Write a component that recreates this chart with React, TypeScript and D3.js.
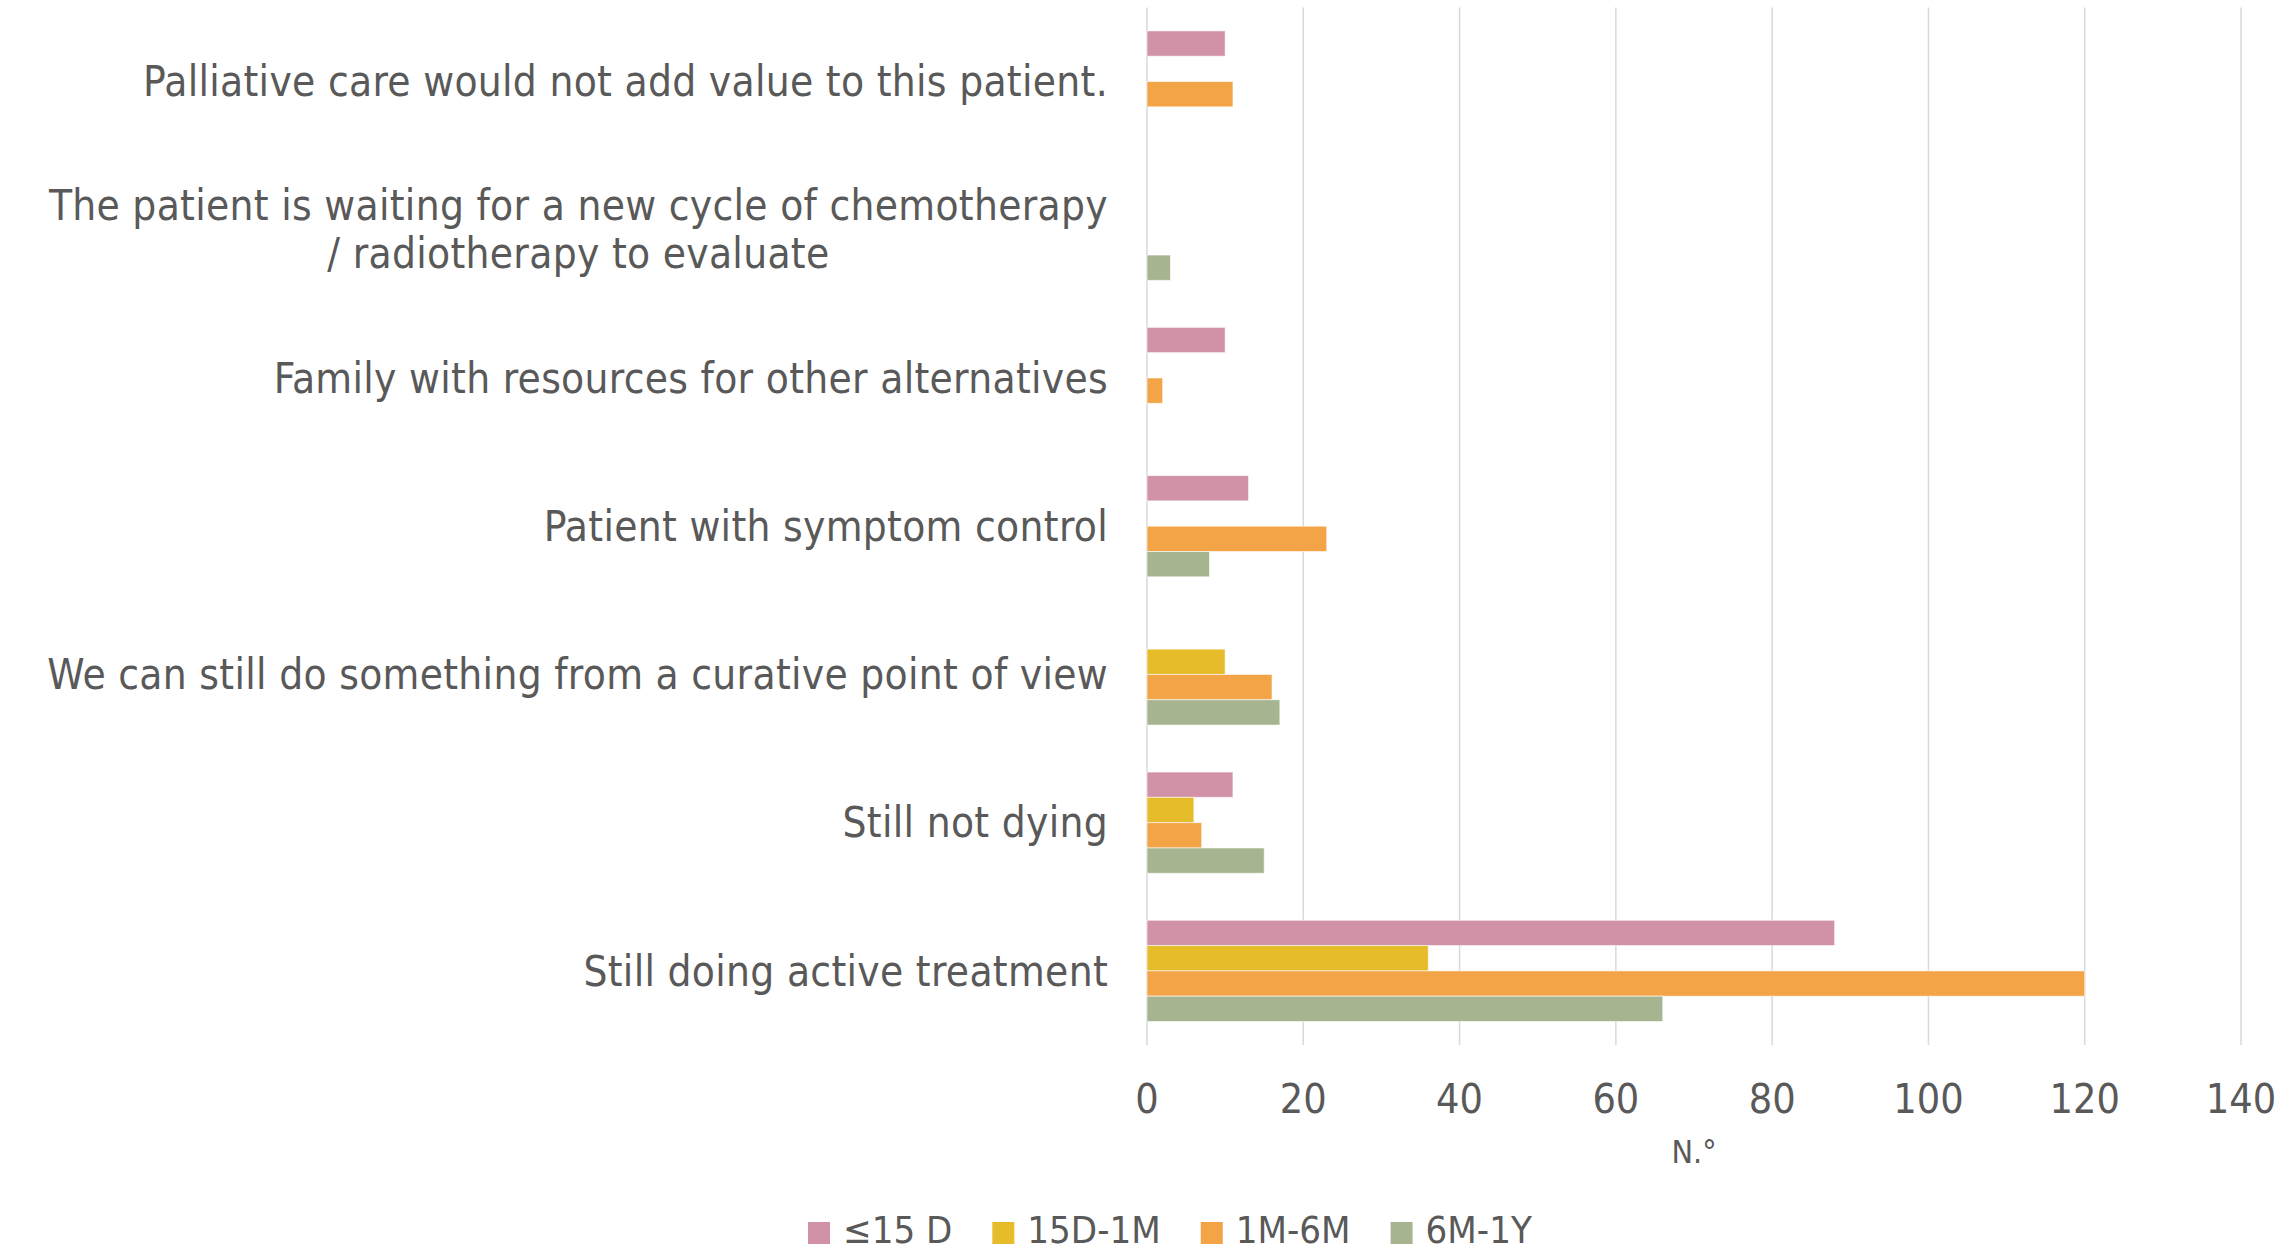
import React, { useEffect, useRef } from "react";
import * as d3 from "d3";

const categories = [
  "Palliative care would not add value to this patient.",
  "The patient is waiting for a new cycle of chemotherapy\n/ radiotherapy to evaluate",
  "Family with resources for other alternatives",
  "Patient with symptom control",
  "We can still do something from a curative point of view",
  "Still not dying",
  "Still doing active treatment"
];

const seriesNames = ["≤15 D", "15D-1M", "1M-6M", "6M-1Y"];
const seriesColors = ["#D192A8", "#E6BC2A", "#F2A447", "#A6B48F"];

// null = empty cell, no bar
const upTo15d = [10, null, 10, 13, null, 11, 88];
const d15To1m = [null, null, null, null, 10, 6, 36];
const m1To6m = [11, null, 2, 23, 16, 7, 120];
const m6To1y = [null, 3, null, 8, 17, 15, 66];

const xTicks = [0, 20, 40, 60, 80, 100, 120, 140];
const xTitle = "N.°";

const WIDTH = 2279;
const HEIGHT = 1253;
const FONT = "'DejaVu Sans Condensed', 'DejaVu Sans', sans-serif";
const TEXT = "#595959";

export default function App() {
  const ref = useRef<SVGSVGElement>(null);

  useEffect(() => {
    document.body.style.margin = "0";
    const svg = d3.select(ref.current);
    svg.selectAll("*").remove();

    const margin = { top: 7.4, right: WIDTH - 2241, bottom: HEIGHT - 1045, left: 1147 };
    const allSeries = [upTo15d, d15To1m, m1To6m, m6To1y];

    const x = d3.scaleLinear().domain([0, 140]).range([margin.left, WIDTH - margin.right]);
    const y = d3
      .scaleBand()
      .domain(categories)
      .range([margin.top, HEIGHT - margin.bottom])
      .paddingInner(0.317)
      .paddingOuter(0.1585);
    const ySub = d3
      .scaleBand()
      .domain(seriesNames)
      .range([0, y.bandwidth()]);

    // gridlines
    svg
      .append("g")
      .selectAll("line")
      .data(xTicks)
      .enter()
      .append("line")
      .attr("x1", d => x(d))
      .attr("x2", d => x(d))
      .attr("y1", margin.top)
      .attr("y2", HEIGHT - margin.bottom)
      .attr("stroke", "#D9D9D9")
      .attr("stroke-width", 1.5);

    // bars
    const groups = svg
      .append("g")
      .selectAll("g")
      .data(seriesNames)
      .enter()
      .append("g")
      .attr("fill", (d, i) => seriesColors[i]);

    groups
      .selectAll("rect")
      .data((s, i) =>
        allSeries[i]
          .map((v, j) => ({ v, cat: categories[j], s }))
          .filter(d => d.v !== null)
      )
      .enter()
      .append("rect")
      .attr("x", x(0))
      .attr("y", d => (y(d.cat) as number) + (ySub(d.s) as number))
      .attr("width", d => x(d.v as number) - x(0))
      .attr("height", ySub.bandwidth())
      .attr("stroke", "#ffffff")
      .attr("stroke-opacity", 0.6)
      .attr("stroke-width", 1);

    // category labels
    const labelRight = 1108;
    categories.forEach(cat => {
      const lines = cat.split("\n");
      const cy = (y(cat) as number) + y.bandwidth() / 2;
      const lineH = 48;
      const t = svg
        .append("text")
        .attr("font-family", FONT)
        .attr("font-size", 42)
        .attr("letter-spacing", 0.3)
        .attr("fill", TEXT);
      lines.forEach((ln, k) => {
        t.append("tspan")
          .attr("y", cy + (k - (lines.length - 1) / 2) * lineH)
          .attr("dy", "0.35em")
          .text(ln);
      });
      if (lines.length === 1) {
        t.attr("text-anchor", "end");
        t.selectAll("tspan").attr("x", labelRight);
      } else {
        const widths: number[] = [];
        t.selectAll<SVGTSpanElement, unknown>("tspan").each(function () {
          widths.push(this.getComputedTextLength());
        });
        const w = d3.max(widths) as number;
        t.attr("text-anchor", "middle");
        t.selectAll("tspan").attr("x", labelRight - w / 2);
      }
    });

    // x tick labels
    svg
      .append("g")
      .selectAll("text")
      .data(xTicks)
      .enter()
      .append("text")
      .attr("x", d => x(d))
      .attr("y", 1113)
      .attr("text-anchor", "middle")
      .attr("font-family", FONT)
      .attr("font-size", 41)
      .attr("fill", TEXT)
      .text(d => d);

    svg
      .append("text")
      .attr("x", (x(0) + x(140)) / 2)
      .attr("y", 1163)
      .attr("text-anchor", "middle")
      .attr("font-family", FONT)
      .attr("font-size", 32)
      .attr("fill", TEXT)
      .text(xTitle);

    // legend
    let lx = 808;
    seriesNames.forEach((name, i) => {
      svg
        .append("rect")
        .attr("x", lx)
        .attr("y", 1222)
        .attr("width", 22)
        .attr("height", 22)
        .attr("fill", seriesColors[i]);
      const t = svg
        .append("text")
        .attr("x", lx + 35)
        .attr("y", 1243)
        .attr("font-family", FONT)
        .attr("font-size", 38)
        .attr("fill", TEXT)
        .text(name);
      const w = (t.node() as SVGTextElement).getComputedTextLength();
      lx += 35 + w + 40;
    });
  }, []);

  return (
    <svg
      ref={ref}
      width={WIDTH}
      height={HEIGHT}
      style={{ display: "block", background: "#fff" }}
    />
  );
}
